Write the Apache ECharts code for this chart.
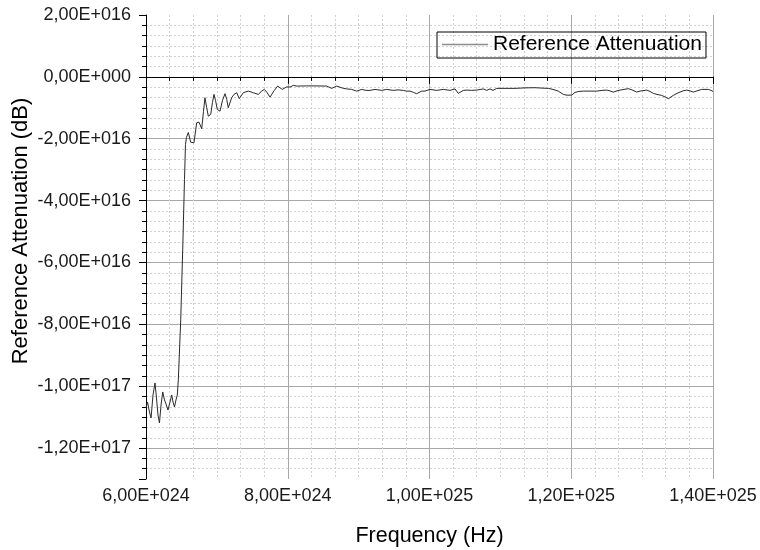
<!DOCTYPE html>
<html>
<head>
<meta charset="utf-8">
<script src="https://cdn.jsdelivr.net/npm/echarts@6/dist/echarts.min.js"></script>
<style>
    html, body { margin: 0; padding: 0; background: #fff; }
    #chart { width: 760px; height: 550px; }
</style>
</head>
<body>
<div id="chart"></div>
<script type="text/javascript">
    // frequency in units of 1e24 Hz, attenuation in units of 1e16 dB
    const freqE24 = [
        6.000, 6.021, 6.049, 6.071, 6.099, 6.127, 6.148, 6.169, 6.190, 6.212,
        6.236, 6.261, 6.282, 6.310, 6.339, 6.363, 6.381, 6.402, 6.423, 6.442,
        6.456, 6.490, 6.518, 6.543, 6.557, 6.571, 6.597, 6.631, 6.656, 6.677,
        6.715, 6.748, 6.786, 6.811, 6.832, 6.856, 6.879, 6.913, 6.938, 6.959,
        6.981, 7.006, 7.044, 7.079, 7.115, 7.139, 7.161, 7.209, 7.242, 7.280,
        7.316, 7.350, 7.373, 7.443, 7.514, 7.584, 7.632, 7.669, 7.707, 7.750,
        7.810, 7.858, 7.923, 7.985, 8.032, 8.078, 8.126, 8.267, 8.384, 8.550,
        8.620, 8.691, 8.784, 8.832, 8.902, 8.973, 9.043, 9.104, 9.160, 9.231,
        9.326, 9.396, 9.489, 9.556, 9.630, 9.678, 9.725, 9.774, 9.819, 9.890,
        9.936, 10.007, 10.101, 10.195, 10.289, 10.360, 10.406, 10.477, 10.529, 10.595,
        10.666, 10.688, 10.759, 10.807, 10.853, 10.896, 10.948, 11.065, 11.206, 11.347,
        11.371, 11.488, 11.587, 11.676, 11.742, 11.817, 11.888, 11.940, 12.006, 12.053,
        12.109, 12.170, 12.264, 12.359, 12.434, 12.500, 12.547, 12.593, 12.646, 12.688,
        12.744, 12.805, 12.857, 12.923, 12.984, 13.065, 13.111, 13.158, 13.210, 13.276,
        13.323, 13.370, 13.408, 13.440, 13.492, 13.535, 13.577, 13.629, 13.676, 13.722,
        13.774, 13.841, 13.887, 13.934, 13.972, 14.000
    ];
    const attenE16 = [
        -10.705, -10.510, -10.834, -11.028, -10.283, -9.895, -10.381, -10.931, -11.190, -10.607,
        -10.186, -10.445, -10.575, -10.769, -10.510, -10.283, -10.510, -10.672, -10.445, -10.283,
        -9.798, -7.854, -5.587, -3.320, -2.186, -1.960, -1.798, -2.112, -2.154, -2.131,
        -1.483, -1.464, -1.678, -1.117, -0.674, -0.988, -1.270, -1.215, -0.826, -0.567,
        -0.761, -1.053, -1.108, -0.761, -0.544, -0.729, -0.998, -0.674, -0.567, -0.512,
        -0.706, -0.589, -0.512, -0.460, -0.512, -0.567, -0.460, -0.405, -0.502, -0.654,
        -0.437, -0.298, -0.405, -0.324, -0.330, -0.275, -0.298, -0.292, -0.292, -0.298,
        -0.372, -0.298, -0.372, -0.389, -0.405, -0.460, -0.405, -0.437, -0.437, -0.405,
        -0.437, -0.405, -0.437, -0.421, -0.437, -0.460, -0.460, -0.502, -0.544, -0.460,
        -0.460, -0.405, -0.437, -0.405, -0.437, -0.389, -0.534, -0.437, -0.428, -0.437,
        -0.428, -0.405, -0.389, -0.437, -0.389, -0.437, -0.372, -0.372, -0.372, -0.356,
        -0.330, -0.350, -0.363, -0.372, -0.405, -0.460, -0.567, -0.593, -0.589, -0.502,
        -0.470, -0.460, -0.460, -0.460, -0.437, -0.428, -0.453, -0.492, -0.453, -0.428,
        -0.405, -0.382, -0.421, -0.492, -0.453, -0.428, -0.470, -0.534, -0.567, -0.599,
        -0.648, -0.706, -0.648, -0.599, -0.534, -0.492, -0.453, -0.428, -0.453, -0.492,
        -0.453, -0.405, -0.405, -0.405, -0.437, -0.470
    ];

    const FONT = 'Liberation Sans, Arial, sans-serif';

    // Origin style number: 6,00E+024
    function sci(v) {
        if (Math.abs(v) < 1e6) {
            return '0,00E+000';
        }
        let s = v.toExponential(2);
        let parts = s.split('e');
        let exp = parseInt(parts[1], 10);
        return parts[0].replace('.', ',') + 'E' + (exp < 0 ? '-' : '+') + String(Math.abs(exp)).padStart(3, '0');
    }

    let seriesData = [];
    for (let i = 0; i < freqE24.length; i++) {
        seriesData.push([freqE24[i] * 1e24, attenE16[i] * 1e16]);
    }

    let myChart = echarts.init(document.getElementById('chart'), null, {renderer: 'canvas'});
    let option = {
        animation: false,
        backgroundColor: '#fff',
        grid: {left: 146, right: 47, top: 15, bottom: 71, containLabel: false, outerBoundsMode: 'none'},
        legend: {
            left: 437,
            top: 32,
            padding: [2, 4, 3, 5],
            borderColor: '#000',
            borderWidth: 1,
            icon: 'rect',
            itemWidth: 46,
            itemHeight: 1.5,
            itemStyle: {color: '#8c8c8c', borderWidth: 0},
            textStyle: {fontSize: 21, color: '#000', fontFamily: FONT},
            data: ['Reference Attenuation']
        },
        xAxis: {
            type: 'value',
            min: 6e24,
            max: 1.4e25,
            interval: 2e24,
            name: 'Frequency (Hz)',
            nameLocation: 'middle',
            nameGap: 46,
            nameTextStyle: {fontSize: 21.5, color: '#000', fontFamily: FONT},
            axisLine: {show: true, lineStyle: {color: '#000', width: 1}},
            axisTick: {show: true, inside: false, length: 7, lineStyle: {color: '#000'}},
            minorTick: {show: true, splitNumber: 6, length: 4, lineStyle: {color: '#000'}},
            axisLabel: {
                margin: 8,
                fontSize: 18,
                color: '#1a1a1a',
                fontFamily: FONT,
                formatter: sci
            },
            splitLine: {show: true, showMinLine: false, showMaxLine: false, lineStyle: {color: '#a8a8a8', width: 1}},
            minorSplitLine: {show: true, lineStyle: {color: '#d2d2d2', width: 1, type: [2, 2]}}
        },
        yAxis: {
            type: 'value',
            min: -1.3e17,
            max: 2e16,
            splitNumber: 7,
            name: 'Reference Attenuation (dB)',
            nameLocation: 'middle',
            nameGap: 114,
            nameMoveOverlap: false,
            nameTextStyle: {fontSize: 22, color: '#000', fontFamily: FONT, padding: [0, 0, 0, 32]},
            axisLine: {show: true, lineStyle: {color: '#000', width: 1}},
            axisTick: {show: true, inside: false, length: 7, lineStyle: {color: '#000'}},
            minorTick: {show: true, splitNumber: 6, length: 4, lineStyle: {color: '#000'}},
            axisLabel: {
                margin: 15,
                fontSize: 18,
                color: '#1a1a1a',
                fontFamily: FONT,
                showMinLabel: false,
                formatter: function (v) {
                    let k = v / 2e16;
                    if (Math.abs(k - Math.round(k)) > 1e-6) {
                        return '';
                    }
                    return sci(v);
                }
            },
            splitLine: {show: true, showMinLine: false, showMaxLine: false, lineStyle: {color: '#a8a8a8', width: 1}},
            minorSplitLine: {show: true, lineStyle: {color: '#d2d2d2', width: 1, type: [2, 2]}}
        },
        series: [{
            name: 'Reference Attenuation',
            type: 'line',
            data: seriesData,
            showSymbol: false,
            symbol: 'none',
            lineStyle: {color: '#2a2a2a', width: 1},
            itemStyle: {color: '#2a2a2a'}
        }]
    };
    myChart.setOption(option);
</script>
</body>
</html>
